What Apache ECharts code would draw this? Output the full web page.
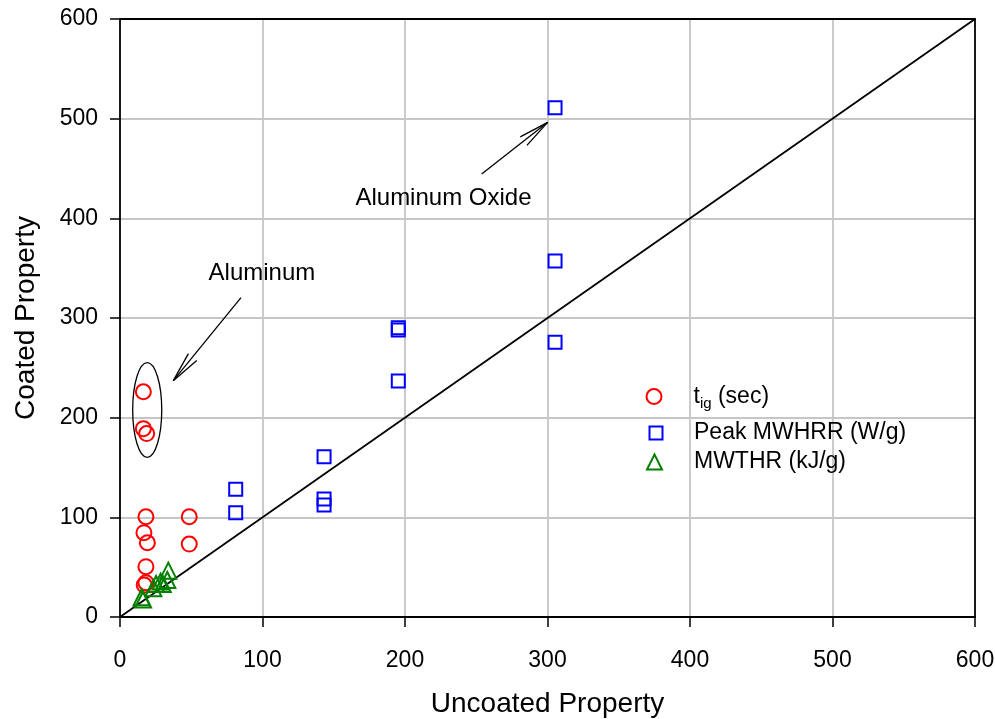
<!DOCTYPE html>
<html>
<head>
<meta charset="utf-8">
<script src="https://cdn.jsdelivr.net/npm/echarts@6/dist/echarts.min.js"></script>
<style>
  html, body { margin: 0; padding: 0; background: #ffffff; }
  #chart { width: 995px; height: 719px; }
</style>
</head>
<body>
<div id="chart"></div>
<script>
// Axis range shared by both axes
const axisMin = 0;
const axisMax = 600;
const axisStep = 100;

// Ignition time, t_ig (sec): uncoated vs coated
const tigUncoated = [16.4, 16.4, 18.7, 18.2, 16.8, 19.2, 48.6, 48.6, 18.2, 18.2, 17.0];
const tigCoated   = [226, 189, 184, 100.6, 84.6, 74.5, 100.6, 73.2, 50.5, 34.4, 32.0];

// Peak mass-weighted heat release rate (W/g)
const peakUncoated = [305.3, 305.3, 305.3, 195.3, 195.3, 195.3, 143.2, 143.2, 143.2, 81.2, 81.2];
const peakCoated   = [511, 357.2, 275.6, 290.3, 288.0, 236.8, 160.8, 118.5, 112.4, 128.1, 104.6];

// Mass-weighted total heat release (kJ/g)
const thrUncoated = [15.2, 16.2, 23.4, 25.3, 28.5, 30.0, 33.9, 33.2];
const thrCoated   = [19.8, 17.5, 28.8, 33.1, 35.5, 33.1, 46.5, 37.1];

// Equality reference line (coated = uncoated)
const equalityLine = [[0, 0], [600, 600]];

// Series names
const seriesNames = ['t_ig (sec)', 'Peak MWHRR (W/g)', 'MWTHR (kJ/g)'];

// Annotations, in data units
const aluminumText = 'Aluminum';
const aluminumTextAt = [99.6, 345];
const aluminumArrow = [[84.9, 320.4], [37.4, 237.1]];
const aluminumRing = { center: [19.1, 207.7], rx: 10.2, ry: 47.5 };
const oxideText = 'Aluminum Oxide';
const oxideTextAt = [227, 420.4];
const oxideArrow = [[253.8, 444.5], [300.1, 496.3]];

const FONT = '"Liberation Sans", Arial, Helvetica, sans-serif';
const pairs = (xs, ys) => xs.map((x, i) => [x, ys[i]]);
const hollow = c => ({ color: 'rgba(0,0,0,0)', borderColor: c, borderWidth: 2, opacity: 1 });

const chart = echarts.init(document.getElementById('chart'), null, { renderer: 'canvas' });

const mainAxis = (name, isX) => ({
  type: 'value',
  min: axisMin, max: axisMax, interval: axisStep,
  name: name,
  nameLocation: 'middle',
  nameGap: isX ? 73 : 80,
  nameTextStyle: { fontFamily: FONT, fontSize: 28, color: '#000' },
  axisLine: { show: true, onZero: false, lineStyle: { color: '#000', width: 1.8 } },
  axisTick: { show: true, inside: false, length: 10, lineStyle: { color: '#000', width: 1.5 } },
  axisLabel: { fontFamily: FONT, fontSize: 23, color: '#000', margin: isX ? 32 : 22 },
  splitLine: { show: true, showMinLine: false, showMaxLine: false,
               lineStyle: { color: '#c6c6c6', width: 1.8 } }
});
const frameAxis = pos => ({
  type: 'value', position: pos,
  min: axisMin, max: axisMax, interval: axisStep,
  axisLine: { show: true, onZero: false, lineStyle: { color: '#000', width: 1.8 } },
  axisTick: { show: false }, axisLabel: { show: false }, splitLine: { show: false }
});

const legendBase = {
  orient: 'vertical', padding: 0, selectedMode: false,
  textStyle: { fontFamily: FONT, fontSize: 23, color: '#000' }
};

chart.setOption({
  animation: false,
  backgroundColor: '#ffffff',
  grid: { left: 120, right: 20, top: 19, bottom: 102, containLabel: false, outerBoundsMode: 'none' },
  xAxis: [mainAxis('Uncoated Property', true), frameAxis('top')],
  yAxis: [mainAxis('Coated Property', false), frameAxis('right')],
  legend: [
    Object.assign({}, legendBase, {
      data: [seriesNames[0]], left: 645.5, top: 385, itemWidth: 15, itemHeight: 15,
      formatter: () => '{g| }{a|t}{s|ig}{a| (sec)}',
      textStyle: {
        fontFamily: FONT, fontSize: 23, color: '#000',
        rich: {
          g: { width: 27 },
          a: { fontFamily: FONT, fontSize: 23, color: '#000', lineHeight: 30, verticalAlign: 'middle' },
          s: { fontFamily: FONT, fontSize: 15, color: '#000', verticalAlign: 'bottom' }
        }
      }
    }),
    Object.assign({}, legendBase, {
      data: [seriesNames[1]], left: 648.5, top: 421.5, itemWidth: 13, itemHeight: 13,
      formatter: n => '{g| }' + n,
      textStyle: { fontFamily: FONT, fontSize: 23, color: '#000', rich: { g: { width: 26.5 } } }
    }),
    Object.assign({}, legendBase, {
      data: [seriesNames[2]], left: 646, top: 450.5, itemWidth: 15, itemHeight: 15,
      formatter: n => '{g| }' + n,
      textStyle: { fontFamily: FONT, fontSize: 23, color: '#000', rich: { g: { width: 27 } } }
    })
  ],
  series: [
    {
      type: 'line', data: equalityLine, symbol: 'none', silent: true, z: 1,
      lineStyle: { color: '#000', width: 1.8 }
    },
    {
      name: seriesNames[0], type: 'scatter', symbol: 'circle', symbolSize: 15,
      data: pairs(tigUncoated, tigCoated), itemStyle: hollow('#ff0000'), z: 3
    },
    {
      name: seriesNames[1], type: 'scatter', symbol: 'rect', symbolSize: 13,
      data: pairs(peakUncoated, peakCoated), itemStyle: hollow('#0000ff'), z: 3
    },
    {
      name: seriesNames[2], type: 'scatter', symbol: 'triangle', symbolSize: 16,
      data: pairs(thrUncoated, thrCoated), itemStyle: hollow('#008000'), z: 3
    }
  ]
});

// Annotation layer: labels, arrows with open heads and the ring around the aluminum points
const px = p => chart.convertToPixel({ gridIndex: 0 }, p);
const ink = { stroke: '#000', lineWidth: 1.3, fill: 'none' };

function arrowParts(from, to) {
  const a = px(from), b = px(to);
  const dx = a[0] - b[0], dy = a[1] - b[1];
  const len = Math.hypot(dx, dy);
  const ux = dx / len, uy = dy / len;
  const barb = 31, ang = 10 * Math.PI / 180;
  const parts = [{ type: 'line', shape: { x1: a[0], y1: a[1], x2: b[0], y2: b[1] }, style: ink, z: 10 }];
  [ang, -ang].forEach(t => {
    const rx = ux * Math.cos(t) - uy * Math.sin(t);
    const ry = ux * Math.sin(t) + uy * Math.cos(t);
    parts.push({ type: 'line', shape: { x1: b[0], y1: b[1], x2: b[0] + rx * barb, y2: b[1] + ry * barb }, style: ink, z: 10 });
  });
  return parts;
}

function label(text, at) {
  const p = px(at);
  return { type: 'text', z: 10, style: { text: text, x: p[0], y: p[1], align: 'center', verticalAlign: 'middle',
           font: '24px ' + FONT, fill: '#000' } };
}

const ringCenter = px(aluminumRing.center);
const ringEdge = px([aluminumRing.center[0] + aluminumRing.rx, aluminumRing.center[1] + aluminumRing.ry]);

chart.setOption({
  graphic: [
    label(aluminumText, aluminumTextAt),
    label(oxideText, oxideTextAt),
    ...arrowParts(aluminumArrow[0], aluminumArrow[1]),
    ...arrowParts(oxideArrow[0], oxideArrow[1]),
    {
      type: 'ellipse', z: 10,
      shape: { cx: ringCenter[0], cy: ringCenter[1],
               rx: Math.abs(ringEdge[0] - ringCenter[0]), ry: Math.abs(ringCenter[1] - ringEdge[1]) },
      style: ink
    }
  ]
});
</script>
</body>
</html>
